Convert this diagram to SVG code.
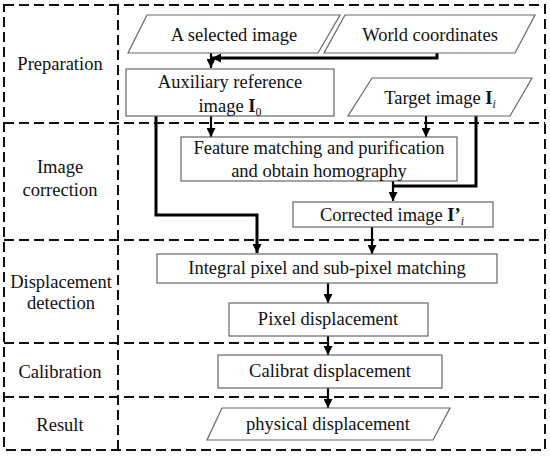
<svg xmlns="http://www.w3.org/2000/svg" width="550" height="457" viewBox="0 0 550 457">
<defs>
<style>
.grid{fill:none;stroke:#111;stroke-width:2;stroke-dasharray:10 5}
.box{fill:#fff;stroke:#666;stroke-width:1.2}
text{font-family:'Liberation Serif','Times New Roman','DejaVu Serif',serif;font-size:18.5px;fill:#111;text-anchor:middle}
.b{font-weight:bold}
.c{fill:none;stroke:#000;stroke-width:3}
.c2{fill:none;stroke:#000;stroke-width:2.2}
</style>
<marker id="ah" viewBox="0 0 10 10" refX="10" refY="5" markerWidth="9" markerHeight="9" markerUnits="userSpaceOnUse" orient="auto">
<path d="M0,0 L10,5 L0,10 z" fill="#000"/>
</marker>
</defs>
<rect width="550" height="457" fill="#fff"/>
<g id="grid">
<path class="grid" d="M4,5 H545 V450 H4 Z"/>
<path class="grid" d="M118,5 V450"/>
<path class="grid" d="M4,123 H545"/>
<path class="grid" d="M4,240 H545"/>
<path class="grid" d="M4,343 H545"/>
<path class="grid" d="M4,397 H545"/>
</g>
<g id="stage-labels" font-family="Liberation Serif, serif">
<text x="60" y="70">Preparation</text>
<text x="60" y="173">Image</text>
<text x="60" y="196">correction</text>
<text x="61" y="288">Displacement</text>
<text x="61" y="309">detection</text>
<text x="60" y="378">Calibration</text>
<text x="60" y="431">Result</text>
</g>
<g id="connectors">
<path class="c2" d="M211,53 V68" marker-end="url(#ah)"/>
<path class="c" d="M437,53 V58 H212" marker-end="url(#ah)"/>
<path class="c2" d="M211,116 V137" marker-end="url(#ah)"/>
<path class="c2" d="M426,116 V137" marker-end="url(#ah)"/>
<path class="c2" d="M393,181 V201" marker-end="url(#ah)"/>
<path class="c" d="M476,116 V186 H393"/>
<path class="c" d="M156,116 V215 H257 V253" marker-end="url(#ah)"/>
<path class="c2" d="M372,227 V254" marker-end="url(#ah)"/>
<path class="c2" d="M328,283 V303" marker-end="url(#ah)"/>
<path class="c2" d="M328,336 V355" marker-end="url(#ah)"/>
<path class="c2" d="M328,388 V408" marker-end="url(#ah)"/>
</g>
<g id="selected-image">
<path class="box" d="M147,15 H340 L318,53 H128 Z"/>
<text x="234" y="41">A selected image</text>
</g>
<g id="world-coordinates">
<path class="box" d="M345,15 H535 L515,53 H324 Z"/>
<text x="430" y="41">World coordinates</text>
</g>
<g id="auxiliary-reference">
<rect class="box" x="126" y="69" width="208" height="47"/>
<text x="230" y="88">Auxiliary reference</text>
<text x="230" y="112">image <tspan class="b">I</tspan><tspan font-size="12" dy="4">0</tspan></text>
</g>
<g id="target-image">
<path class="box" d="M372,78 H532 L510,116 H348 Z"/>
<text x="440" y="104">Target image <tspan class="b">I</tspan><tspan font-size="12" font-style="italic" dy="4">i</tspan></text>
</g>
<g id="feature-matching">
<rect class="box" x="181" y="137" width="276" height="44"/>
<text x="319" y="154">Feature matching and purification</text>
<text x="319" y="177">and obtain homography</text>
</g>
<g id="corrected-image">
<rect class="box" x="293" y="202" width="200" height="25"/>
<text x="392" y="221">Corrected image <tspan class="b">I’</tspan><tspan font-size="12" font-style="italic" dy="4">i</tspan></text>
</g>
<g id="integral-matching">
<rect class="box" x="157" y="254" width="340" height="29"/>
<text x="327" y="274">Integral pixel and sub-pixel matching</text>
</g>
<g id="pixel-displacement">
<rect class="box" x="229" y="303" width="199" height="33"/>
<text x="328" y="325">Pixel displacement</text>
</g>
<g id="calibrat-displacement">
<rect class="box" x="218" y="355" width="224" height="33"/>
<text x="330" y="377">Calibrat displacement</text>
</g>
<g id="physical-displacement">
<path class="box" d="M222,408 H450 L433,440 H207 Z"/>
<text x="328" y="430">physical displacement</text>
</g>
</svg>
